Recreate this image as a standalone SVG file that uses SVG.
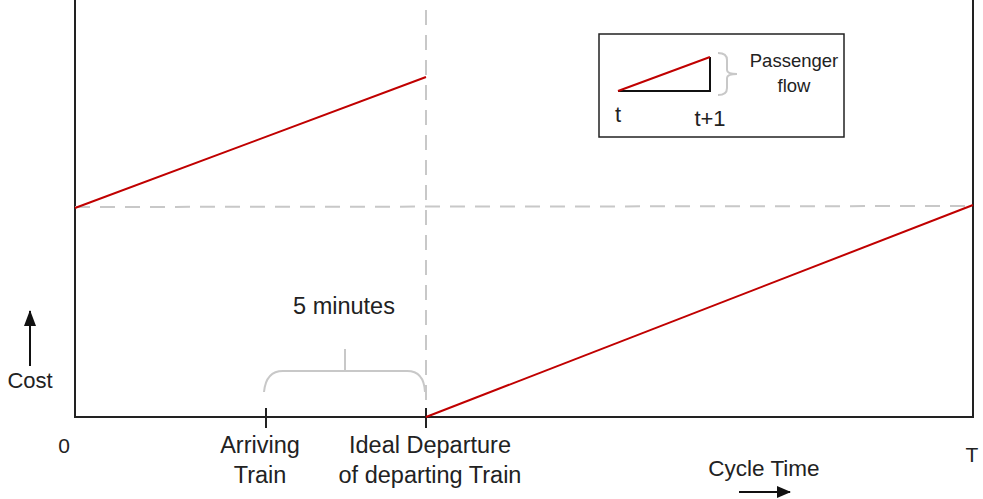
<svg xmlns="http://www.w3.org/2000/svg" width="983" height="499" viewBox="0 0 983 499">
<defs>
<style>
.t{font-family:"Liberation Sans","Open Sans",sans-serif;fill:#222;}
.ax{stroke:#222;stroke-width:2;fill:none;}
.red{stroke:#c00000;stroke-width:2;fill:none;}
.dash{stroke:#c8c8c8;stroke-width:2;stroke-dasharray:15 10;fill:none;}
.brace{stroke:#c8c8c8;stroke-width:2;fill:none;}
</style>
<marker id="ah" markerWidth="14" markerHeight="12" refX="13" refY="6" orient="auto" markerUnits="userSpaceOnUse">
<path d="M0,0 L14,6 L0,12 Z" fill="#111"/>
</marker>
<marker id="ah2" markerWidth="16" markerHeight="12" refX="15" refY="6" orient="auto" markerUnits="userSpaceOnUse">
<path d="M0,0 L16,6 L0,12 Z" fill="#111"/>
</marker>
</defs>
<rect width="983" height="499" fill="#fff"/>
<g id="axes">
<polyline class="ax" points="75,0 75,417 973,417 973,0"/>
<line class="ax" x1="266" y1="408" x2="266" y2="428"/>
<line class="ax" x1="426" y1="408" x2="426" y2="428"/>
</g>
<g id="connectors">
<line class="dash" x1="426" y1="10" x2="426" y2="408"/>
<line class="dash" x1="75" y1="207" x2="973" y2="206"/>
<line class="red" x1="75" y1="208" x2="426" y2="77"/>
<line class="red" x1="426" y1="417" x2="973" y2="205"/>
<path class="brace" d="M264,392 Q266,371 283,371 L407,371 Q424,371 425,392 M345,349 L345,371"/>
<line x1="30" y1="366" x2="30" y2="311" stroke="#111" stroke-width="2" marker-end="url(#ah2)"/>
<line x1="739" y1="492" x2="790" y2="492" stroke="#111" stroke-width="2" marker-end="url(#ah)"/>
</g>
<g id="inset">
<rect x="599" y="34" width="245" height="103" fill="none" stroke="#222" stroke-width="1.5"/>
<polyline points="618,91 710,91 710,57" fill="none" stroke="#111" stroke-width="2"/>
<line class="red" x1="618" y1="91" x2="710" y2="57"/>
<path class="brace" stroke-width="1" d="M718,53 Q727,53 727,60 L727,70 Q727,74 737,74 Q727,74 727,78 L727,88 Q727,95 718,95"/>
<text class="t" x="794" y="67" font-size="18.5" text-anchor="middle">Passenger</text>
<text class="t" x="794" y="92" font-size="18.5" text-anchor="middle">flow</text>
<text class="t" x="618" y="122" font-size="22" text-anchor="middle">t</text>
<text class="t" x="710" y="126" font-size="22" text-anchor="middle">t+1</text>
</g>
<g id="labels">
<text class="t" x="344" y="314" font-size="23.5" text-anchor="middle">5 minutes</text>
<text class="t" x="30" y="388" font-size="22" text-anchor="middle">Cost</text>
<text class="t" x="64" y="453" font-size="21" text-anchor="middle">0</text>
<text class="t" x="972" y="462" font-size="21" text-anchor="middle">T</text>
<text class="t" x="260" y="453" font-size="23.5" text-anchor="middle">Arriving</text>
<text class="t" x="260" y="483" font-size="23.5" text-anchor="middle">Train</text>
<text class="t" x="430" y="453" font-size="23.5" text-anchor="middle">Ideal Departure</text>
<text class="t" x="430" y="483" font-size="23.5" text-anchor="middle">of departing Train</text>
<text class="t" x="764" y="476" font-size="22.5" text-anchor="middle">Cycle Time</text>
</g>
</svg>
